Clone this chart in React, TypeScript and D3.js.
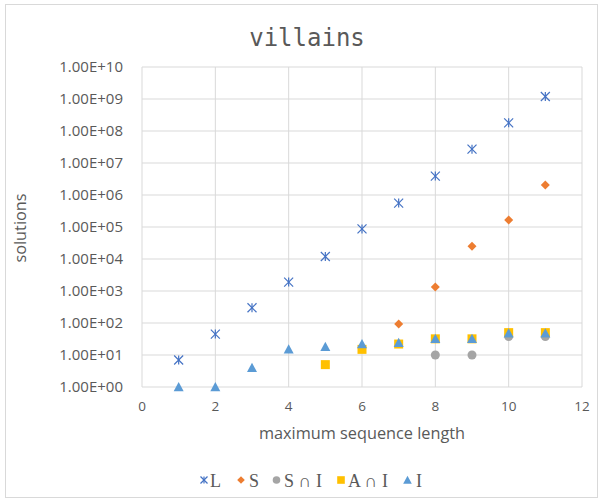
import React from "react";
import * as d3 from "d3";

const xs = [1, 2, 3, 4, 5, 6, 7, 8, 9, 10, 11];
const seriesL = [7, 45, 300, 1900, 12000, 87000, 560000, 3.9e6, 2.7e7, 1.8e8, 1.2e9];
const xsS = [7, 8, 9, 10, 11];
const seriesS = [93, 1340, 25000, 165000, 2.05e6];
const xsSI = [8, 9, 10, 11];
const seriesSI = [10, 10, 38, 38];
const xsAI = [5, 6, 7, 8, 9, 10, 11];
const seriesAI = [5, 15, 22, 32, 32, 50, 50];
const seriesI = [1, 1, 4, 15, 18, 22, 24, 32, 32, 48, 48];
const xTicks = [0, 2, 4, 6, 8, 10, 12];
const yTicks = [1, 10, 100, 1e3, 1e4, 1e5, 1e6, 1e7, 1e8, 1e9, 1e10];

const W = 605, H = 504;
const x = d3.scaleLinear().domain([0, 12]).range([142, 582]);
const y = d3.scaleLog().domain([1, 1e10]).range([387, 67]);

const BLUE = "#4472C4";
const ORANGE = "#ED7D31";
const GRAY = "#A5A5A5";
const YELLOW = "#FFC000";
const LBLUE = "#5B9BD5";

function Star({ cx, cy, s = 4.5 }: { cx: number; cy: number; s?: number }) {
  return (
    <g stroke={BLUE} strokeWidth={1.2} fill="none">
      <line x1={cx - s} y1={cy - s} x2={cx + s} y2={cy + s} />
      <line x1={cx - s} y1={cy + s} x2={cx + s} y2={cy - s} />
      <line x1={cx} y1={cy - s} x2={cx} y2={cy + s} />
    </g>
  );
}
function Diamond({ cx, cy, s = 4.5 }: { cx: number; cy: number; s?: number }) {
  return <path d={`M${cx},${cy - s}L${cx + s},${cy}L${cx},${cy + s}L${cx - s},${cy}Z`} fill={ORANGE} />;
}
function Circle({ cx, cy, r = 4.5 }: { cx: number; cy: number; r?: number }) {
  return <circle cx={cx} cy={cy} r={r} fill={GRAY} />;
}
function Square({ cx, cy, s = 4.5 }: { cx: number; cy: number; s?: number }) {
  return <rect x={cx - s} y={cy - s} width={2 * s} height={2 * s} fill={YELLOW} />;
}
function Tri({ cx, cy, s = 5 }: { cx: number; cy: number; s?: number }) {
  return <path d={`M${cx},${cy - s}L${cx + s},${cy + s * 0.85}L${cx - s},${cy + s * 0.85}Z`} fill={LBLUE} />;
}

const fmt = (v: number) => {
  const e = Math.round(Math.log10(v));
  return `1.00E+${e < 10 ? "0" + e : e}`;
};

export default function App() {
  const font = "'Open Sans', 'Segoe UI', Calibri, 'Liberation Sans', sans-serif";
  return (
    <svg width={W} height={H} style={{ position: "absolute", left: 0, top: 0 }}>
      <rect x={0} y={0} width={W} height={H} fill="#fff" />
      <rect x={5.5} y={4.5} width={592} height={493} fill="#fff" stroke="#d9d9d9" />
      <text x={307} y={46} textAnchor="middle" fontFamily="'DejaVu Sans Mono', monospace" fontSize={24} fill="#595959">
        villains
      </text>
      {/* grid */}
      {yTicks.map((t) => (
        <line key={"gy" + t} x1={142} x2={582} y1={y(t)} y2={y(t)} stroke="#d9d9d9" />
      ))}
      {xTicks.map((t) => (
        <line key={"gx" + t} x1={x(t)} x2={x(t)} y1={67} y2={387} stroke="#d9d9d9" />
      ))}
      {yTicks.map((t) => (
        <text key={"ty" + t} x={123} y={y(t) + 5} textAnchor="end" fontFamily={font} fontSize={15} fill="#595959">
          {fmt(t)}
        </text>
      ))}
      {xTicks.map((t) => (
        <text key={"tx" + t} x={x(t)} y={411} textAnchor="middle" fontFamily={font} fontSize={13.5} fill="#595959">
          {t}
        </text>
      ))}
      <text x={362} y={439} textAnchor="middle" fontFamily={font} fontSize={16.3} fill="#595959">
        maximum sequence length
      </text>
      <text transform="translate(26,228) rotate(-90)" textAnchor="middle" fontFamily={font} fontSize={16.3} fill="#595959">
        solutions
      </text>
      {/* series */}
      {xs.map((v, i) => <Star key={"L" + i} cx={x(v)} cy={y(seriesL[i])} />)}
      {xsS.map((v, i) => <Diamond key={"S" + i} cx={x(v)} cy={y(seriesS[i])} />)}
      {xsSI.map((v, i) => <Circle key={"SI" + i} cx={x(v)} cy={y(seriesSI[i])} />)}
      {xsAI.map((v, i) => <Square key={"AI" + i} cx={x(v)} cy={y(seriesAI[i])} />)}
      {xs.map((v, i) => <Tri key={"I" + i} cx={x(v)} cy={y(seriesI[i])} />)}
      {/* legend */}
      <g fontFamily="'Liberation Serif', 'Times New Roman', serif" fontSize={18} fill="#595959">
        <Star cx={204} cy={480} s={3.5} />
        <text x={210} y={487}>L</text>
        <Diamond cx={241} cy={480} s={3.8} />
        <text x={249} y={487}>S</text>
        <Circle cx={276.5} cy={480} r={3.8} />
        <text x={284} y={487}>S ∩ I</text>
        <Square cx={341} cy={480} s={3.8} />
        <text x={348} y={487}>A ∩ I</text>
        <Tri cx={407.5} cy={480} s={4.3} />
        <text x={416} y={487}>I</text>
      </g>
    </svg>
  );
}
